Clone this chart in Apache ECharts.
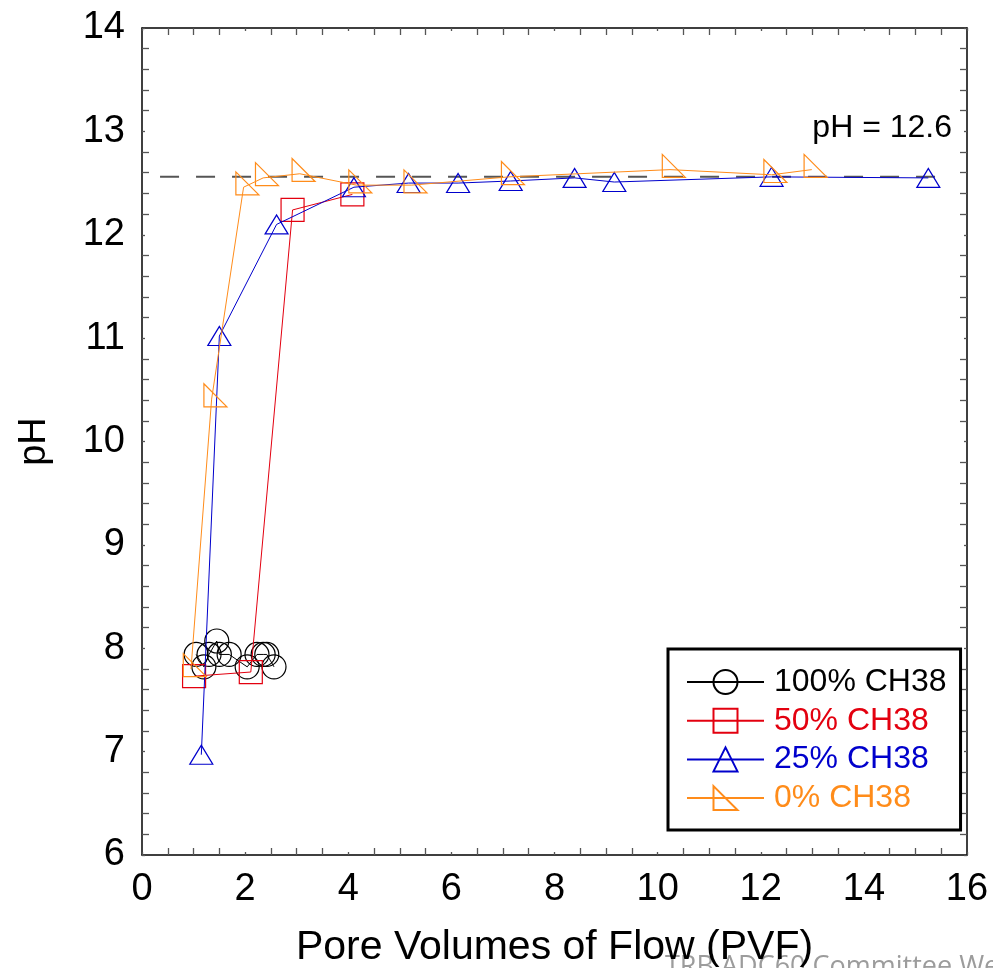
<!DOCTYPE html>
<html>
<head>
<meta charset="utf-8">
<script src="https://cdn.jsdelivr.net/npm/echarts@6/dist/echarts.min.js"></script>
<style>
  html, body { margin: 0; padding: 0; background: #fff; }
  #chart { width: 993px; height: 968px; }
</style>
</head>
<body>
<div id="chart"></div>
<script>
// Series names (legend order)
const seriesNames = ['100% CH38', '50% CH38', '25% CH38', '0% CH38'];

// 100% CH38 : pore volumes of flow and pH
const pvf100 = [1.05, 1.20, 1.30, 1.45, 1.50, 1.69, 2.04, 2.23, 2.35, 2.42, 2.56];
const ph100  = [7.94, 7.82, 7.94, 8.07, 7.94, 7.94, 7.82, 7.94, 7.94, 7.94, 7.82];

// 50% CH38
const pvf50 = [1.01, 2.11, 2.92, 4.08];
const ph50  = [7.73, 7.77, 12.24, 12.39];

// 25% CH38
const pvf25 = [1.15, 1.50, 2.61, 4.11, 5.17, 6.13, 7.15, 8.39, 9.16, 12.21, 15.25];
const ph25  = [6.97, 11.02, 12.10, 12.46, 12.50, 12.50, 12.52, 12.55, 12.51, 12.56, 12.55];

// 0% CH38
const pvf0 = [0.95, 1.35, 1.97, 2.35, 3.06, 4.16, 5.23, 7.12, 10.24, 12.21, 12.99];
const ph0  = [7.80, 10.41, 12.46, 12.55, 12.59, 12.48, 12.48, 12.56, 12.63, 12.58, 12.63];

// Reference pH level (dashed line) and its horizontal extent
const refPH = 12.56;
const refPvf = [0.35, 15.67];

// Axis ranges and tick steps
const xRange = [0, 16], xStep = 2;
const yRange = [6, 14], yStep = 1;

const FONT = '"Liberation Sans", Arial, sans-serif';
const colors = ['#000000', '#e3000f', '#0000cc', '#ff8c1a'];

const zip = (xs, ys) => xs.map((x, i) => [x, ys[i]]);

// right triangle: vertical left side, horizontal bottom side
const rightTri = 'path://M0,0 L0,10 L10,10 Z';

function mkSeries(idx, xs, ys, symbol, size, offset) {
  return {
    name: seriesNames[idx],
    type: 'line',
    data: zip(xs, ys),
    symbol: symbol,
    symbolSize: size,
    symbolOffset: offset || [0, 0],
    showAllSymbol: true,
    z: 3 + idx,
    lineStyle: { color: colors[idx], width: 1 },
    itemStyle: { color: 'rgba(0,0,0,0)', borderColor: colors[idx], borderWidth: 1.2 },
    emphasis: { disabled: true },
    animation: false
  };
}

const axisCommonX = {
  type: 'value', min: xRange[0], max: xRange[1], interval: xStep,
  axisLine: { show: true, onZero: false, lineStyle: { color: '#000', width: 1.5 } },
  axisTick: { show: true, inside: true, length: 3, lineStyle: { color: '#555', width: 1.3 } },
  minorTick: { show: true, splitNumber: 4, length: 7, lineStyle: { color: '#555', width: 1.3 } },
  splitLine: { show: false },
  minorSplitLine: { show: false }
};
const axisCommonY = {
  type: 'value', min: yRange[0], max: yRange[1], interval: yStep,
  axisLine: { show: true, onZero: false, lineStyle: { color: '#000', width: 1.5 } },
  axisTick: { show: true, inside: true, length: 3, lineStyle: { color: '#555', width: 1.3 } },
  minorTick: { show: true, splitNumber: 5, length: 7, lineStyle: { color: '#555', width: 1.3 } },
  splitLine: { show: false },
  minorSplitLine: { show: false }
};

const chart = echarts.init(document.getElementById('chart'), null, { renderer: 'canvas' });

chart.setOption({
  animation: false,
  backgroundColor: '#fff',
  grid: { left: 142, right: 26, top: 28, bottom: 113, containLabel: false, outerBoundsMode: 'none' },
  xAxis: [
    Object.assign({}, axisCommonX, {
      position: 'bottom',
      name: 'Pore Volumes of Flow (PVF)',
      nameLocation: 'middle',
      nameGap: 72,
      nameTextStyle: { fontSize: 41, color: '#000', fontFamily: FONT },
      axisLabel: { fontSize: 38, color: '#000', fontFamily: FONT, margin: 16 }
    }),
    Object.assign({}, axisCommonX, { position: 'top', axisLabel: { show: false } })
  ],
  yAxis: [
    Object.assign({}, axisCommonY, {
      position: 'left',
      name: 'pH',
      nameLocation: 'middle',
      nameRotate: 90,
      nameGap: 88,
      nameTextStyle: { fontSize: 38, color: '#000', fontFamily: FONT },
      axisLabel: { fontSize: 38, color: '#000', fontFamily: FONT, margin: 17 }
    }),
    Object.assign({}, axisCommonY, { position: 'right', axisLabel: { show: false } })
  ],
  legend: {
    orient: 'vertical',
    left: 668,
    top: 649,
    padding: [17, 14, 16, 18],
    borderColor: '#000',
    borderWidth: 3,
    backgroundColor: '#fff',
    itemWidth: 77,
    itemHeight: 30,
    itemGap: 6.7,
    selectedMode: false,
    textStyle: { fontSize: 32, fontFamily: FONT, lineHeight: 30, padding: [0, 0, 0, 5] },
    data: seriesNames.map((n, i) => ({ name: n, textStyle: { color: colors[i] } }))
  },
  graphic: [
    {
      type: 'text',
      right: 993 - 952,
      top: 112,
      style: { text: 'pH = ' + refPH.toFixed(1), font: '32px ' + FONT, fill: '#000' },
      silent: true
    },
    {
      type: 'text',
      left: 665,
      top: 954,
      style: { text: 'TRB ADC60 Committee Webinar', font: '27px "Open Sans", sans-serif', fill: '#9c9c9c' },
      silent: true
    }
  ],
  series: [
    {
      name: 'ref',
      type: 'line',
      data: refPvf.map(x => [x, refPH]),
      symbol: 'none',
      z: 2,
      lineStyle: { color: '#555', width: 2, type: [19, 17] },
      emphasis: { disabled: true },
      animation: false
    },
    mkSeries(0, pvf100, ph100, 'circle', 24),
    mkSeries(1, pvf50, ph50, 'rect', 23),
    mkSeries(2, pvf25, ph25, 'triangle', [23, 19]),
    mkSeries(3, pvf0, ph0, rightTri, 23, [3.8, -3.8])
  ]
});
</script>
</body>
</html>
